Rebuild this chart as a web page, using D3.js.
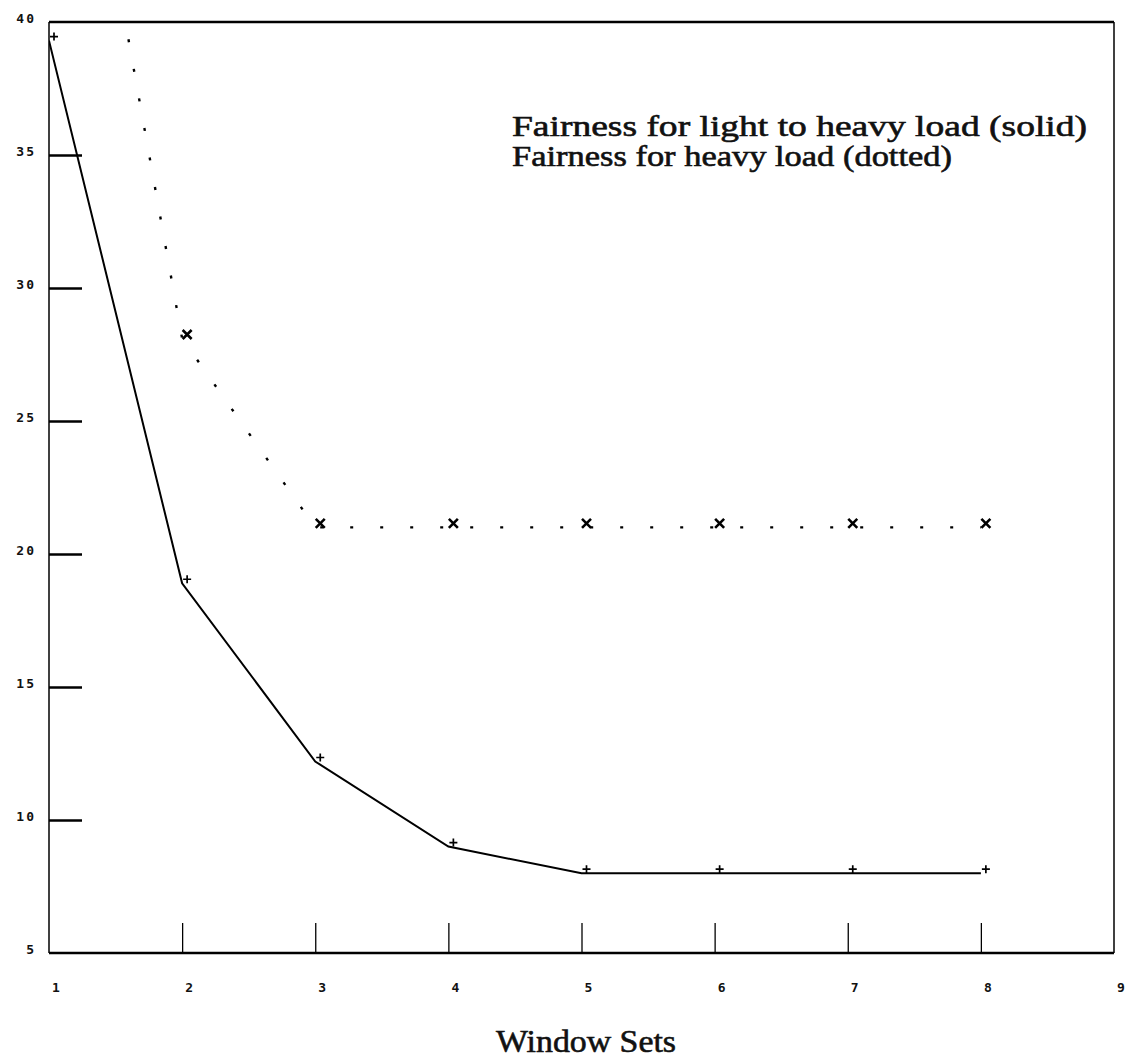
<!DOCTYPE html>
<html>
<head>
<meta charset="utf-8">
<script src="https://cdn.jsdelivr.net/npm/d3@7"></script>
<style>
  html, body { margin: 0; padding: 0; background: #fff; }
  svg { display: block; }
  .tick-label { font-family: "DejaVu Sans Mono", monospace; font-size: 13px; font-weight: bold; fill: #111; }
  .serif { font-family: "Liberation Serif", "Times New Roman", serif; fill: #111; stroke: #111; stroke-width: 0.6; }
</style>
</head>
<body>
<script>
// Window set index on the x axis
const windowSets = [1, 2, 3, 4, 5, 6, 7, 8];
// Fairness for light to heavy load (solid line, "+" markers)
const fairnessLightToHeavy = [39.3, 18.9, 12.2, 9.0, 8.0, 8.0, 8.0, 8.0];
// Fairness for heavy load (dotted line, "x" markers); first value runs off the top
const fairnessHeavy = [56.0, 28.1, 21.0, 21.0, 21.0, 21.0, 21.0, 21.0];
// Axis tick values
const xTicks = [1, 2, 3, 4, 5, 6, 7, 8, 9];
const yTicks = [5, 10, 15, 20, 25, 30, 35, 40];
const legendLines = ["Fairness for light to heavy load (solid)", "Fairness for heavy load (dotted)"];
const legendWidths = [575, 440];
const xTitle = "Window Sets";

const W = 1136, H = 1059;
const svg = d3.select("body").append("svg").attr("width", W).attr("height", H);

const x = d3.scaleLinear().domain([1, 9]).range([49, 1114]);
const y = d3.scaleLinear().domain([5, 40]).range([953, 22]);

// clip region for the data lines
svg.append("clipPath").attr("id", "plot-clip")
  .append("rect")
  .attr("x", x(1)).attr("y", y(40))
  .attr("width", x(9) - x(1)).attr("height", y(5) - y(40));

// frame: heavy top and bottom, lighter left and right sides
const frame = svg.append("g").attr("stroke", "#000").attr("fill", "none");
frame.append("line").attr("x1", x(1)).attr("x2", x(9)).attr("y1", y(40)).attr("y2", y(40)).attr("stroke-width", 2.6);
frame.append("line").attr("x1", x(1)).attr("x2", x(9)).attr("y1", y(5)).attr("y2", y(5)).attr("stroke-width", 2.6);
frame.append("line").attr("x1", x(1)).attr("x2", x(1)).attr("y1", y(40)).attr("y2", y(5)).attr("stroke-width", 1.5);
frame.append("line").attr("x1", x(9)).attr("x2", x(9)).attr("y1", y(40)).attr("y2", y(5)).attr("stroke-width", 1.5);

// y axis: inward ticks on the left edge
const yAxis = d3.axisRight(y).tickValues(yTicks.filter(v => v > 5 && v < 40)).tickSize(33).tickFormat("");
const gy = svg.append("g").attr("transform", `translate(${x(1)},0)`).call(yAxis);
gy.select(".domain").remove();
gy.selectAll(".tick line").attr("stroke", "#000").attr("stroke-width", 2.6);

// x axis: inward ticks on the bottom edge
const xAxis = d3.axisTop(x).tickValues(xTicks.filter(v => v > 1 && v < 9)).tickSize(30).tickFormat("");
const gx = svg.append("g").attr("transform", `translate(0,${y(5)})`).call(xAxis);
gx.select(".domain").remove();
gx.selectAll(".tick line").attr("stroke", "#000").attr("stroke-width", 1.3);

// tick labels
svg.append("g").selectAll("text").data(yTicks).join("text")
  .attr("class", "tick-label")
  .attr("x", 36).attr("y", d => y(d) + 1)
  .attr("text-anchor", "end")
  .attr("letter-spacing", 2)
  .text(d => d);
svg.append("g").selectAll("text").data(xTicks).join("text")
  .attr("class", "tick-label")
  .attr("x", d => x(d) + 7).attr("y", 992)
  .attr("text-anchor", "middle")
  .text(d => d);

// data lines
const line = d3.line().x((d, i) => x(windowSets[i])).y(d => y(d));
const plot = svg.append("g").attr("clip-path", "url(#plot-clip)");
plot.append("path").datum(fairnessLightToHeavy)
  .attr("d", line).attr("fill", "none").attr("stroke", "#000").attr("stroke-width", 2);
plot.append("path").datum(fairnessHeavy)
  .attr("d", line).attr("fill", "none").attr("stroke", "#000").attr("stroke-width", 2.4)
  .attr("stroke-dasharray", "3,27");

// markers, drawn slightly up and to the right of each vertex
const markOff = [5, -4];
const plusPts = windowSets.map((w, i) => [x(w), y(fairnessLightToHeavy[i])]);
plot.append("g").selectAll("path").data(plusPts).join("path")
  .attr("transform", d => `translate(${d[0] + markOff[0]},${d[1] + markOff[1]})`)
  .attr("d", "M-4,0H4M0,-4V4")
  .attr("stroke", "#000").attr("stroke-width", 1.7);
const crossPts = windowSets.map((w, i) => [x(w), y(fairnessHeavy[i])]).filter(d => d[1] >= y(40));
plot.append("g").selectAll("path").data(crossPts).join("path")
  .attr("transform", d => `translate(${d[0] + markOff[0]},${d[1] + markOff[1]})`)
  .attr("d", "M-4.5,-4.5L4.5,4.5M4.5,-4.5L-4.5,4.5")
  .attr("stroke", "#000").attr("stroke-width", 2.6);

// legend text
svg.append("g").selectAll("text").data(legendLines).join("text")
  .attr("class", "serif")
  .attr("x", 512).attr("y", (d, i) => 136 + i * 30)
  .attr("font-size", 29)
  .attr("textLength", (d, i) => legendWidths[i])
  .attr("lengthAdjust", "spacingAndGlyphs")
  .text(d => d);

// x axis title
svg.append("text").attr("class", "serif")
  .attr("x", 586).attr("y", 1052)
  .attr("text-anchor", "middle")
  .attr("font-size", 32)
  .attr("textLength", 180)
  .attr("lengthAdjust", "spacingAndGlyphs")
  .text(xTitle);
</script>
</body>
</html>
